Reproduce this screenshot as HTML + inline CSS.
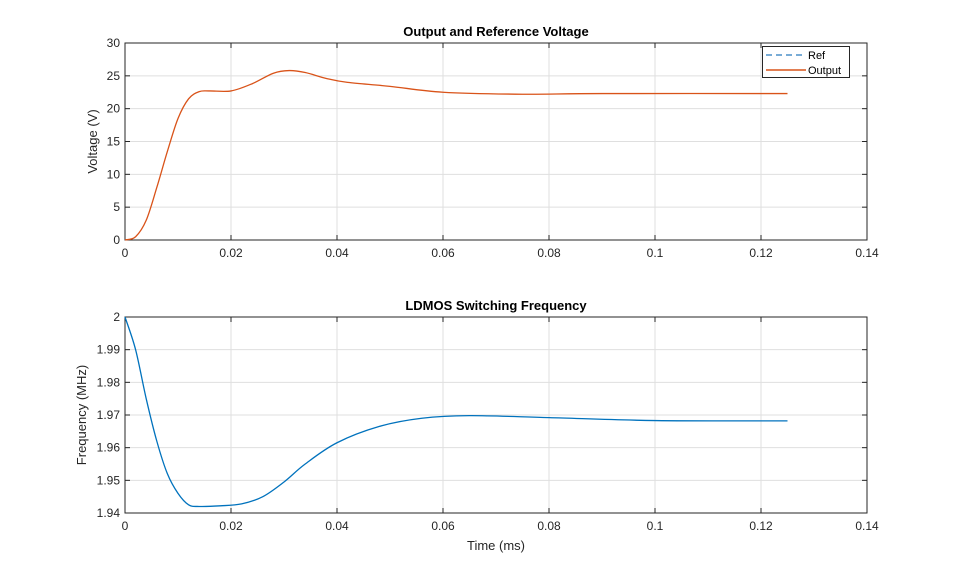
<!DOCTYPE html>
<html><head><meta charset="utf-8"><style>
body{margin:0;background:#fff;}
svg{display:block;font-family:"Liberation Sans",Arial,sans-serif;}
</style></head><body>
<svg id="s" width="959" height="577" viewBox="0 0 959 577" xmlns="http://www.w3.org/2000/svg"></svg>
<script>
const s=document.getElementById('s');let h='';
const X0=125,X1=867;
function axes(top,bot,yt,title,ylab,xlab){
  const W=X1-X0;
  h+=`<rect x="${X0}" y="${top}" width="${W}" height="${bot-top}" fill="#fff"/>`;
  for(let i=0;i<=7;i++){const x=X0+W*i/7;
    if(i>0&&i<7)h+=`<line x1="${x}" y1="${top}" x2="${x}" y2="${bot}" stroke="#dfdfdf" stroke-width="1"/>`;
    h+=`<line x1="${x}" y1="${bot}" x2="${x}" y2="${bot-5}" stroke="#262626"/><line x1="${x}" y1="${top}" x2="${x}" y2="${top+5}" stroke="#262626"/>`;
    const lab=i==0?'0':(i==5?'0.1':(i*0.02).toFixed(2));
    h+=`<text x="${x}" y="${bot+17}" font-size="12" text-anchor="middle" fill="#262626">${lab}</text>`;}
  const n=yt.length-1;
  for(let i=0;i<=n;i++){const y=bot-(bot-top)*i/n;
    if(i>0&&i<n)h+=`<line x1="${X0}" y1="${y}" x2="${X1}" y2="${y}" stroke="#dfdfdf"/>`;
    h+=`<line x1="${X0}" y1="${y}" x2="${X0+5}" y2="${y}" stroke="#262626"/><line x1="${X1}" y1="${y}" x2="${X1-5}" y2="${y}" stroke="#262626"/>`;
    h+=`<text x="${X0-5}" y="${y+4}" font-size="12" text-anchor="end" fill="#262626">${yt[i]}</text>`;}
  h+=`<rect x="${X0}" y="${top}" width="${W}" height="${bot-top}" fill="none" stroke="#262626"/>`;
  h+=`<text x="${(X0+X1)/2}" y="${top-7}" font-size="13" font-weight="bold" text-anchor="middle" fill="#000">${title}</text>`;
  const cy=(top+bot)/2;
  h+=`<text transform="translate(${ylab[1]},${cy}) rotate(-90)" font-size="13" text-anchor="middle" fill="#262626">${ylab[0]}</text>`;
  if(xlab)h+=`<text x="${(X0+X1)/2}" y="${bot+37}" font-size="13" text-anchor="middle" fill="#262626">${xlab}</text>`;
}
function path(pts,fx,fy,col){
  const p=pts.map(q=>[fx(q[0]),fy(q[1])]);
  let d=`M${p[0][0]},${p[0][1]}`;
  for(let i=0;i<p.length-1;i++){const a=p[Math.max(i-1,0)],b=p[i],c=p[i+1],e=p[Math.min(i+2,p.length-1)];
    d+=` C${b[0]+(c[0]-a[0])/6},${b[1]+(c[1]-a[1])/6} ${c[0]-(e[0]-b[0])/6},${c[1]-(e[1]-b[1])/6} ${c[0]},${c[1]}`;}
  h+=`<path d="${d}" fill="none" stroke="${col}" stroke-width="1.3"/>`;
}
axes(43,240,['0','5','10','15','20','25','30'],'Output and Reference Voltage',['Voltage (V)',97],null);
axes(317,513,['1.94','1.95','1.96','1.97','1.98','1.99','2'],'LDMOS Switching Frequency',['Frequency (MHz)',86],'Time (ms)');
const fx=t=>X0+t*(X1-X0)/0.14;
const v=[[0,0],[0.002,0.5],[0.004,3],[0.006,8],[0.008,13.5],[0.010,18.5],[0.012,21.5],[0.014,22.6],[0.016,22.7],[0.020,22.7],[0.024,23.8],[0.028,25.4],[0.031,25.8],[0.034,25.5],[0.038,24.6],[0.042,24],[0.050,23.4],[0.060,22.5],[0.075,22.2],[0.09,22.3],[0.125,22.3]];
path(v,fx,V=>240-V*197/30,'#d95319');
const f=[[0,2],[0.002,1.99],[0.004,1.975],[0.006,1.962],[0.008,1.952],[0.010,1.946],[0.012,1.9425],[0.014,1.942],[0.018,1.9422],[0.022,1.9428],[0.026,1.945],[0.030,1.9495],[0.034,1.955],[0.040,1.9615],[0.048,1.9665],[0.056,1.969],[0.065,1.9698],[0.08,1.9692],[0.1,1.9683],[0.125,1.9682]];
path(f,fx,F=>513-(F-1.94)*196/0.06,'#0072bd');
h+=`<rect x="762.5" y="46.5" width="87" height="31" fill="#fff" stroke="#262626"/>`;
h+=`<line x1="766" y1="55" x2="806" y2="55" stroke="#4d90c8" stroke-width="1.5" stroke-dasharray="6,4"/><text x="808" y="59" font-size="11" fill="#000">Ref</text>`;
h+=`<line x1="766" y1="70" x2="806" y2="70" stroke="#d95319" stroke-width="1.5"/><text x="808" y="74" font-size="11" fill="#000">Output</text>`;
s.innerHTML=h;
</script>
</body></html>
